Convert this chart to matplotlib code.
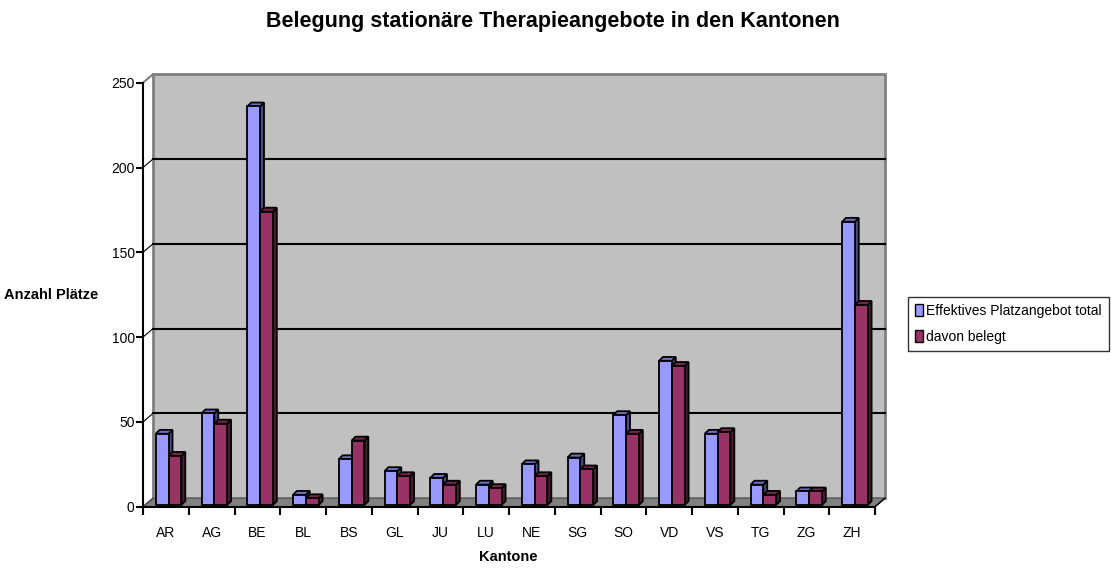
import numpy as np
import matplotlib
matplotlib.use("Agg")
import matplotlib.pyplot as plt
from matplotlib.patches import Polygon, Rectangle

plt.rcParams['font.family'] = ['Liberation Sans', 'DejaVu Sans']

# Data
kantone = ["AR", "AG", "BE", "BL", "BS", "GL", "JU", "LU", "NE", "SG", "SO", "VD", "VS", "TG", "ZG", "ZH"]
platzangebot = [42, 54, 235, 6, 27, 20, 16, 12, 24, 28, 53, 85, 42, 12, 8, 167]
belegt = [29, 48, 173, 4, 38, 17, 12, 10, 17, 21, 42, 82, 43, 6, 8, 118]
y_ticks = [0, 50, 100, 150, 200, 250]

series_names = ["Effektives Platzangebot total", "davon belegt"]
front_cols = ["#9999FF", "#993366"]
side_cols = ["#4C4C88", "#4D1A33"]
top_cols = ["#6E6EC0", "#73264D"]

fig = plt.figure(figsize=(11.11, 5.68), dpi=100)
ax = fig.add_axes([143 / 1111, 1 - 506.7 / 568, 732 / 1111, 424 / 568])
ax.set_xlim(-0.5, 15.5)
ax.set_ylim(0, 250)

# depth of the 3D box (wall offset) and of the bars
dx, dy = 0.2186, 5.0
bdx, bdy = 0.085, 2.3
z0 = 1.0
xl, xr, ymax = -0.5, 15.5, 250

# back wall
ax.add_patch(Polygon([(xl + dx, dy), (xr + dx, dy), (xr + dx, ymax + dy), (xl + dx, ymax + dy)],
                     closed=True, fc="#C0C0C0", ec="#808080", lw=2, clip_on=False, zorder=0))
# side wall edges
ax.plot([xl, xl + dx], [ymax, ymax + dy], color="#808080", lw=1.5, clip_on=False, zorder=1)
# floor
ax.add_patch(Polygon([(xl, 0), (xr, 0), (xr + dx, dy), (xl + dx, dy)],
                     closed=True, fc="#808080", ec="#606060", lw=1, clip_on=False, zorder=1))

# gridlines
for t in y_ticks[1:-1]:
    ax.plot([xl + dx, xr + dx], [t + dy, t + dy], color="black", lw=1.5, clip_on=False, zorder=1)
    ax.plot([xl, xl + dx], [t, t + dy], color="black", lw=0.8, clip_on=False, zorder=1)
ax.plot([xl, xl + dx], [0, dy], color="#404040", lw=0.8, clip_on=False, zorder=1)
ax.plot([xr, xr + dx], [0, dy], color="black", lw=1, clip_on=False, zorder=1)

# bars
x = np.arange(len(kantone))
w = 0.28
offsets = [-0.08, 0.20]
z = 2
for i in range(len(kantone)):
    for s, vals in enumerate([platzangebot, belegt]):
        v = vals[i]
        xc = x[i] + offsets[s]
        x0, x1 = xc - w / 2, xc + w / 2
        ax.bar(xc, v, width=w, bottom=z0, color=front_cols[s], edgecolor="black",
               linewidth=1.3, zorder=z + 0.2, clip_on=False)
        ax.add_patch(Polygon([(x1, z0), (x1 + bdx, z0 + bdy), (x1 + bdx, z0 + v + bdy), (x1, z0 + v)],
                             closed=True, fc=side_cols[s], ec="black", lw=1.3, zorder=z + 0.1, clip_on=False))
        ax.add_patch(Polygon([(x0, z0 + v), (x1, z0 + v), (x1 + bdx, z0 + v + bdy), (x0 + bdx, z0 + v + bdy)],
                             closed=True, fc=top_cols[s], ec="black", lw=1.3, zorder=z + 0.1, clip_on=False))
        z += 1

# axes
for sp in ["top", "right"]:
    ax.spines[sp].set_visible(False)
ax.spines["left"].set_linewidth(1.5)
ax.spines["bottom"].set_linewidth(1.5)
ax.spines["left"].set_zorder(200)
ax.spines["bottom"].set_zorder(200)
ax.set_yticks(y_ticks)
ax.set_yticklabels([str(t) for t in y_ticks], fontsize=10)
ax.tick_params(axis="y", length=5, width=1.5, pad=1)
ax.set_xticks(x)
ax.set_xticklabels(kantone, fontsize=10)
ax.tick_params(axis="x", which="major", length=0, pad=14)
ax.set_xticks(np.arange(-0.5, 16, 1), minor=True)
ax.tick_params(axis="x", which="minor", length=6, width=1.5, direction="out")

fig.text(553 / 1111, 0.963, "Belegung stationäre Therapieangebote in den Kantonen",
         ha="center", va="center", fontsize=15.5, fontweight="bold")
fig.text(51 / 1111, 1 - 295 / 568, "Anzahl Plätze", ha="center", va="center",
         fontsize=10.5, fontweight="bold")
fig.text(508 / 1111, 1 - 557 / 568, "Kantone", ha="center", va="center",
         fontsize=10.5, fontweight="bold")

handles = [Rectangle((0, 0), 1, 1, fc=front_cols[s], ec="black", lw=1) for s in range(2)]
leg = fig.legend(handles, series_names, loc="upper left",
                 bbox_to_anchor=(908 / 1111, 1 - 297 / 568), fontsize=10,
                 frameon=True, fancybox=False, edgecolor="black",
                 handlelength=0.6, handleheight=0.9, handletextpad=0.2,
                 borderpad=0.5, labelspacing=0.85, borderaxespad=0)
leg.get_frame().set_linewidth(1)

fig.savefig("out.png", dpi=100)
